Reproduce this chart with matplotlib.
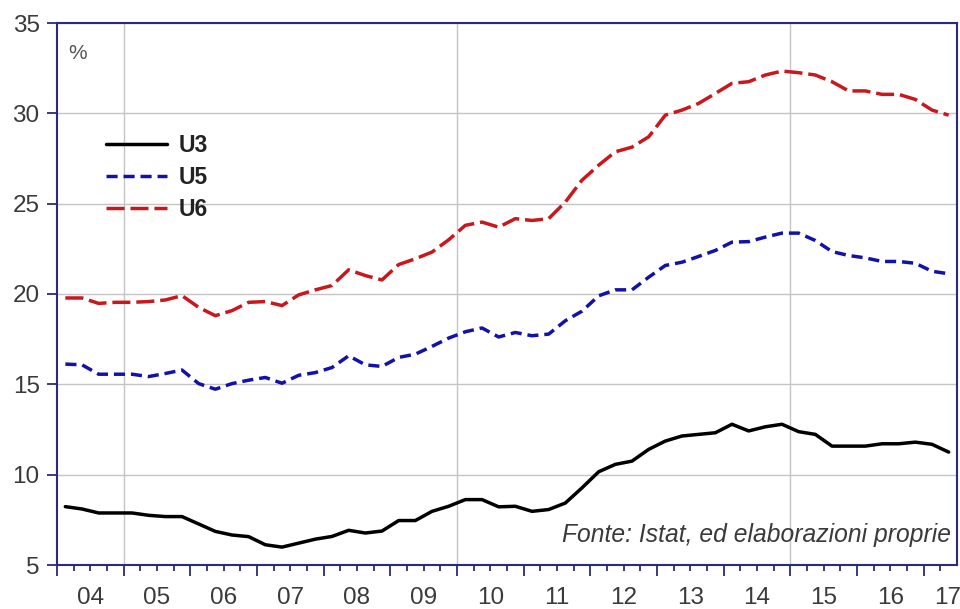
import matplotlib
matplotlib.use("Agg")
import matplotlib.pyplot as plt
import pandas as pd

# trimestri 2004Q1 - 2017Q2
quarters = pd.period_range("2004Q1", "2017Q2", freq="Q")
year_labels = ["04", "05", "06", "07", "08", "09", "10", "11", "12", "13", "14", "15", "16", "17"]
grid_years = [2005, 2010, 2015]

u3 = [8.23, 8.1, 7.88, 7.88, 7.88, 7.75, 7.68, 7.68, 7.27, 6.86,
      6.66, 6.57, 6.12, 5.99, 6.21, 6.43, 6.58, 6.92, 6.77, 6.88,
      7.46, 7.46, 7.97, 8.25, 8.62, 8.62, 8.22, 8.25, 7.97, 8.07,
      8.43, 9.27, 10.16, 10.57, 10.75, 11.4, 11.86, 12.14, 12.23, 12.32,
      12.79, 12.42, 12.65, 12.79, 12.38, 12.23, 11.58, 11.58, 11.58, 11.71,
      11.71, 11.8, 11.68, 11.25]
u5 = [16.12, 16.08, 15.56, 15.56, 15.56, 15.43, 15.6, 15.79, 15.04, 14.73,
      15.04, 15.23, 15.38, 15.06, 15.5, 15.65, 15.93, 16.58, 16.08, 15.99,
      16.49, 16.67, 17.1, 17.56, 17.91, 18.12, 17.62, 17.87, 17.69, 17.78,
      18.52, 19.05, 19.9, 20.23, 20.23, 20.93, 21.58, 21.76, 22.08, 22.41,
      22.87, 22.9, 23.15, 23.37, 23.37, 22.96, 22.35, 22.13, 22.0, 21.8,
      21.8, 21.7, 21.26, 21.12]
u6 = [19.78, 19.78, 19.48, 19.54, 19.54, 19.58, 19.67, 19.91, 19.26, 18.8,
      19.08, 19.54, 19.58, 19.36, 19.95, 20.23, 20.47, 21.34, 21.02, 20.78,
      21.63, 21.95, 22.32, 23.0, 23.8, 23.98, 23.7, 24.17, 24.07, 24.17,
      25.09, 26.3, 27.13, 27.87, 28.13, 28.7, 29.9, 30.18, 30.55, 31.1,
      31.66, 31.75, 32.12, 32.34, 32.25, 32.12, 31.75, 31.24, 31.24, 31.05,
      31.05, 30.77, 30.18, 29.9]

plt.rcParams["font.family"] = ["Liberation Sans", "DejaVu Sans"]

navy = "#2b2b7c"
txt = "#3a3a3a"
grid_c = "#c4c4c4"

# osservazioni al centro del trimestre
x = [q.year + (q.quarter - 0.5) / 4 for q in quarters]
first_year = quarters[0].year
last_year = quarters[-1].year
x_end = x[-1] + 0.125

fig = plt.figure(figsize=(9.6, 6.09), dpi=100)
ax = fig.add_axes([57 / 960, 1 - 565 / 609, 900 / 960, 542 / 609])

ax.plot(x, u3, color="black", lw=2.5, label="U3", solid_capstyle="round", zorder=3)
ax.plot(x, u5, color="#1212a8", lw=2.5, dashes=(3.2, 1.7), label="U5", zorder=3)
ax.plot(x, u6, color="#c8181e", lw=2.5, dashes=(5.2, 1.7), label="U6", zorder=3)

ax.set_xlim(first_year, x_end)
ax.set_ylim(5, 35)

for yr in grid_years:
    ax.axvline(yr, color=grid_c, lw=1, zorder=1)
ax.set_yticks([5, 10, 15, 20, 25, 30, 35])
ax.yaxis.grid(True, color=grid_c, lw=1, zorder=1)
ax.set_axisbelow(True)

years = list(range(first_year, last_year + 1))
ax.set_xticks(years)
ax.set_xticklabels([])
ax.set_xticks([y0 + k / 4 for y0 in years for k in (1, 2, 3) if y0 + k / 4 < x_end], minor=True)
ax.tick_params(axis="x", which="major", length=8, width=1.3, color=navy)
ax.tick_params(axis="x", which="minor", length=4.3, width=1.3, color=navy)
ax.tick_params(axis="y", length=7, width=1.3, color=navy, labelsize=17.5, labelcolor=txt, pad=5.5)

# etichette degli anni a metà anno (l'ultimo anno è incompleto)
label_pos = [yr + 0.5 for yr in years[:-1]] + [years[-1] + 0.36]
sec = ax.secondary_xaxis("bottom")
sec.set_xticks(label_pos)
sec.set_xticklabels(year_labels)
sec.tick_params(length=0, pad=16, labelsize=17.5, labelcolor=txt)
sec.spines["bottom"].set_visible(False)

for s in ax.spines.values():
    s.set_color(navy)
    s.set_linewidth(1.5)

ax.text(0.012, 0.962, "%", transform=ax.transAxes, fontsize=15, color="#555555",
        ha="left", va="top")
ax.text(0.993, 0.056, "Fonte: Istat, ed elaborazioni proprie", transform=ax.transAxes,
        fontsize=17.7, style="italic", color=txt, ha="right", va="center")

leg = ax.legend(loc="upper left", bbox_to_anchor=(0.054, 0.795), frameon=False,
                borderpad=0, borderaxespad=0, handlelength=2.7, handletextpad=0.5,
                labelspacing=0.4, prop={"size": 16.5, "weight": "bold"})
for t in leg.get_texts():
    t.set_color("#222222")

fig.savefig("out.png", dpi=100, facecolor="white")
